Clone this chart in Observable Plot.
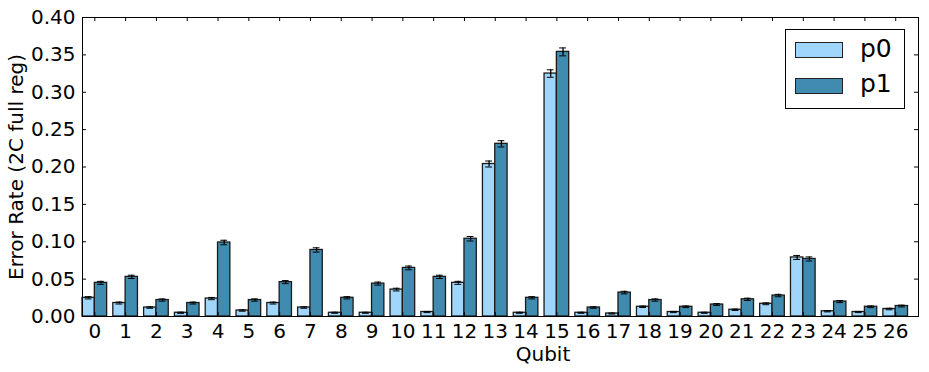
<!DOCTYPE html>
<html><head><meta charset="utf-8">
<script src="https://cdn.jsdelivr.net/npm/d3@7"></script>
<script src="https://cdn.jsdelivr.net/npm/@observablehq/plot@0.6"></script>
<style>
body{margin:0;background:#fff;font-family:"DejaVu Sans",sans-serif;}
#wrap{position:relative;width:929px;height:372px;}
#legend{position:absolute;left:785px;top:29px;width:118px;height:78px;border:1px solid #000;background:#fff;}
.sw{position:absolute;left:9px;width:46px;height:14px;border:1px solid #222;}
.lab{position:absolute;left:74px;font-size:25px;line-height:1;color:#000;}
</style></head><body><div id="wrap"></div>
<script>
const qubits = ["0","1","2","3","4","5","6","7","8","9","10","11","12","13","14","15","16","17","18","19","20","21","22","23","24","25","26"];
const p0 = [0.025,0.018,0.012,0.005,0.024,0.008,0.018,0.012,0.005,0.005,0.036,0.006,0.045,0.204,0.005,0.325,0.005,0.004,0.013,0.006,0.005,0.009,0.017,0.079,0.007,0.006,0.010];
const p1 = [0.045,0.053,0.022,0.018,0.099,0.022,0.046,0.089,0.025,0.044,0.065,0.053,0.104,0.231,0.025,0.354,0.012,0.032,0.022,0.013,0.016,0.023,0.028,0.077,0.020,0.013,0.014];
const p0Err = [0.0015,0.0013,0.001,0.0008,0.0015,0.0009,0.0013,0.001,0.0007,0.0007,0.0018,0.0008,0.002,0.004,0.0007,0.005,0.0007,0.0007,0.001,0.0008,0.0007,0.0009,0.0012,0.0027,0.0008,0.0008,0.001];
const p1Err = [0.002,0.0022,0.0015,0.0013,0.003,0.0015,0.002,0.0029,0.0015,0.002,0.0025,0.0022,0.003,0.0042,0.0015,0.0053,0.001,0.0017,0.0015,0.0011,0.0012,0.0015,0.0016,0.0027,0.0014,0.0011,0.0012];
const series = ["p0","p1"];
const colors = ["#a1d6fc","#408cb0"];
const yTicks = [0,0.05,0.10,0.15,0.20,0.25,0.30,0.35,0.40];

const BW = 0.4;
const rows = [];
qubits.forEach((q,i)=>{
  rows.push({q:i, s:"p0", v:p0[i], e:p0Err[i], off:0});
  rows.push({q:i, s:"p1", v:p1[i], e:p1Err[i], off:BW});
});
const xTickPos = qubits.map((_,i)=>i+BW);

const chart = Plot.plot({
  width:929, height:372, marginLeft:82, marginRight:11, marginTop:17, marginBottom:56,
  style:{fontFamily:"DejaVu Sans", fontSize:"20px", color:"#000", background:"#fff", overflow:"visible"},
  x:{type:"linear", domain:[0,27.14]},
  y:{domain:[0,0.4]},
  color:{domain:series, range:colors},
  marks:[
    Plot.rectY(rows,{x1:d=>d.q+d.off, x2:d=>d.q+d.off+BW, y1:0, y2:"v", fill:"s", stroke:"#1a1a1a", strokeWidth:1.3}),
    Plot.ruleX(rows,{x:d=>d.q+d.off+BW/2, y1:d=>d.v-d.e, y2:d=>d.v+d.e, stroke:"#000", strokeWidth:1.3}),
    Plot.ruleY(rows,{y:d=>d.v-d.e, x1:d=>d.q+d.off+BW/2-0.11, x2:d=>d.q+d.off+BW/2+0.11, stroke:"#000", strokeWidth:1}),
    Plot.ruleY(rows,{y:d=>d.v+d.e, x1:d=>d.q+d.off+BW/2-0.11, x2:d=>d.q+d.off+BW/2+0.11, stroke:"#000", strokeWidth:1}),
    Plot.axisX({ticks:xTickPos, tickFormat:d=>qubits[Math.round(d-BW)], tickSize:0, tickPadding:7, label:null}),
    Plot.axisY({ticks:yTicks, tickFormat:d3.format(".2f"), tickSize:0, tickPadding:7, label:null}),
    Plot.ruleX(xTickPos,{x:d=>d, insetTop:295, stroke:"#000"}),
    Plot.ruleX(xTickPos,{x:d=>d, insetBottom:295, stroke:"#000"}),
    Plot.ruleY(yTicks,{y:d=>d, insetRight:832, stroke:"#000"}),
    Plot.ruleY(yTicks,{y:d=>d, insetLeft:832, stroke:"#000"}),
    Plot.frame({stroke:"#000"}),
    Plot.text(["Error Rate (2C full reg)"],{text:d=>d, frameAnchor:"left", textAnchor:"middle", lineAnchor:"middle", rotate:-90, dx:-66, fontSize:20, fill:"#000"}),
    Plot.text(["Qubit"],{text:d=>d, frameAnchor:"bottom", textAnchor:"middle", lineAnchor:"middle", dx:42.5, dy:38, fontSize:20, fill:"#000"})
  ]
});
const wrap = document.getElementById("wrap");
wrap.appendChild(chart);
const leg = document.createElement("div");
leg.id = "legend";
series.forEach((s,i)=>{
  const sw = document.createElement("div");
  sw.className = "sw"; sw.style.top = (12 + i*35.6) + "px"; sw.style.background = colors[i];
  const lb = document.createElement("div");
  lb.className = "lab"; lb.style.top = (5.5 + i*35.6) + "px"; lb.textContent = s;
  leg.appendChild(sw); leg.appendChild(lb);
});
wrap.appendChild(leg);
</script>
</body></html>
